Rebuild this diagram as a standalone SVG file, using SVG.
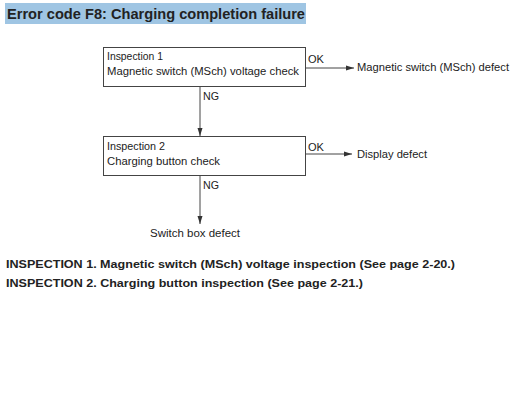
<svg xmlns="http://www.w3.org/2000/svg" width="532" height="400" viewBox="0 0 532 400">
<defs>
<marker id="ah" markerWidth="8" markerHeight="6" refX="8" refY="3" orient="auto" markerUnits="userSpaceOnUse">
<path d="M0,0.5 L8,3 L0,5.5 Z" fill="#333"/>
</marker>
<style>
.t{font-family:"Liberation Sans",Arial,sans-serif;fill:#222;}
.s{font-size:10px;}
.b{font-weight:bold;}
.box{fill:#fff;stroke:#444;stroke-width:1;}
.ln{stroke:#444;stroke-width:1;fill:none;}
</style>
</defs>
<rect width="532" height="400" fill="#fff"/>
<rect x="5" y="3" width="301" height="21" fill="#9fc5e3"/>
<text class="t b" x="7" y="19" font-size="14.5" textLength="298" lengthAdjust="spacingAndGlyphs">Error code F8: Charging completion failure</text>

<g id="connectors">
<path class="ln" d="M305,68 H354" marker-end="url(#ah)"/>
<path class="ln" d="M200,87 V136" marker-end="url(#ah)"/>
<path class="ln" d="M305,154 H352" marker-end="url(#ah)"/>
<path class="ln" d="M200,176 V224" marker-end="url(#ah)"/>
<text class="t s" x="308" y="63" textLength="16" lengthAdjust="spacingAndGlyphs">OK</text>
<text class="t s" x="203" y="100" textLength="16" lengthAdjust="spacingAndGlyphs">NG</text>
<text class="t s" x="308" y="151" textLength="16" lengthAdjust="spacingAndGlyphs">OK</text>
<text class="t s" x="203" y="189" textLength="16" lengthAdjust="spacingAndGlyphs">NG</text>
</g>

<g id="inspection1">
<rect class="box" x="103.5" y="47.5" width="202" height="39"/>
<text class="t s" x="107" y="60" textLength="56" lengthAdjust="spacingAndGlyphs">Inspection 1</text>
<text class="t s" x="107" y="74.5" textLength="192" lengthAdjust="spacingAndGlyphs">Magnetic switch (MSch) voltage check</text>
</g>
<g id="inspection2">
<rect class="box" x="103.5" y="136.5" width="202" height="39"/>
<text class="t s" x="107" y="150" textLength="58" lengthAdjust="spacingAndGlyphs">Inspection 2</text>
<text class="t s" x="107" y="164.5" textLength="113" lengthAdjust="spacingAndGlyphs">Charging button check</text>
</g>
<g id="msch-defect">
<text class="t s" x="357" y="71" textLength="152" lengthAdjust="spacingAndGlyphs">Magnetic switch (MSch) defect</text>
</g>
<g id="display-defect">
<text class="t s" x="357" y="158" textLength="70" lengthAdjust="spacingAndGlyphs">Display defect</text>
</g>
<g id="switchbox-defect">
<text class="t s" x="150" y="237" textLength="90" lengthAdjust="spacingAndGlyphs">Switch box defect</text>
</g>

<text class="t b" x="6" y="268" font-size="11" textLength="449" lengthAdjust="spacingAndGlyphs">INSPECTION 1. Magnetic switch (MSch) voltage inspection (See page 2-20.)</text>
<text class="t b" x="6" y="287" font-size="11" textLength="357" lengthAdjust="spacingAndGlyphs">INSPECTION 2. Charging button inspection (See page 2-21.)</text>
</svg>
